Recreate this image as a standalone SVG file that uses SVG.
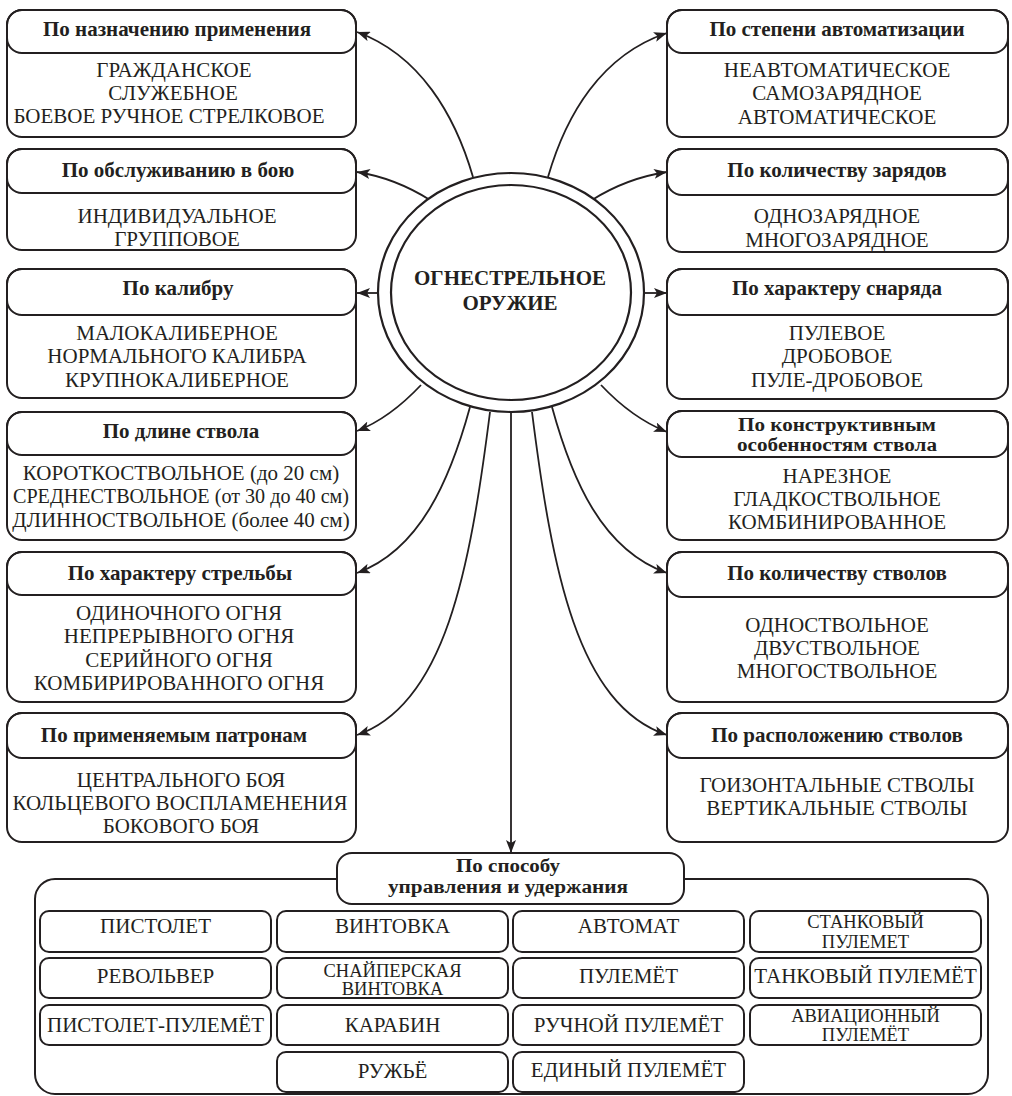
<svg xmlns="http://www.w3.org/2000/svg" width="1012" height="1096" viewBox="0 0 1012 1096">
<style>
.box{fill:#fff;stroke:#231f20;stroke-width:2}
.hdr{fill:none;stroke:#231f20;stroke-width:2}
.cell{fill:#fff;stroke:#231f20;stroke-width:2}
text{font-family:'Liberation Serif','DejaVu Serif',serif;fill:#231f20;text-anchor:middle}
.h{font-weight:bold;font-size:21px}
.h2{font-weight:bold;font-size:18px}
.b{font-size:21px}
.s{font-size:18.5px}
.c{font-weight:bold;font-size:21px}
.conn{fill:none;stroke:#231f20;stroke-width:1.8;marker-end:url(#arr)}
</style>
<defs>
<marker id="arr" markerUnits="userSpaceOnUse" markerWidth="14" markerHeight="10" refX="13" refY="5" orient="auto">
<path d="M0,0 L13,5 L0,10 L3,5 z" fill="#231f20"/>
</marker>
</defs>
<rect width="1012" height="1096" fill="#fff"/>

<g id="connectors">
<path class="conn" d="M473,177 C455,115 420,55 357,32"/>
<path class="conn" d="M430,200 Q395,178 357,172"/>
<path class="conn" d="M378,293 L357,293"/>
<path class="conn" d="M421,385 Q390,418 357,431"/>
<path class="conn" d="M470,407 C450,480 420,550 357,573"/>
<path class="conn" d="M490,412 C470,570 445,705 357,735"/>
<path class="conn" d="M511,412 L511,853"/>
<path class="conn" d="M548,177 C566,115 601,55 667,33"/>
<path class="conn" d="M592,200 Q627,178 667,172"/>
<path class="conn" d="M644,293 L667,293"/>
<path class="conn" d="M601,385 Q632,418 667,432"/>
<path class="conn" d="M552,407 C572,480 602,550 667,573"/>
<path class="conn" d="M532,412 C552,570 577,705 667,735"/>
</g>

<g id="center">
<ellipse cx="511" cy="292.5" rx="133" ry="119.5" fill="#fff" stroke="#231f20" stroke-width="2.2"/>
<ellipse cx="511" cy="292.5" rx="120" ry="107.5" fill="none" stroke="#231f20" stroke-width="2.2"/>
<text class="c" x="510" y="285">ОГНЕСТРЕЛЬНОЕ</text>
<text class="c" x="510" y="310">ОРУЖИЕ</text>
</g>

<g id="l1">
<rect class="box" x="7" y="10" width="349" height="127" rx="15"/>
<rect class="hdr" x="7" y="10" width="349" height="43" rx="15"/>
<text class="h" x="177" y="36">По назначению применения</text>
<text class="b" x="174" y="77">ГРАЖДАНСКОЕ</text>
<text class="b" x="173" y="100">СЛУЖЕБНОЕ</text>
<text class="b" x="169" y="123">БОЕВОЕ РУЧНОЕ СТРЕЛКОВОЕ</text>
</g>
<g id="l2">
<rect class="box" x="7" y="149" width="349" height="101" rx="15"/>
<rect class="hdr" x="7" y="149" width="349" height="44" rx="15"/>
<text class="h" x="178" y="177">По обслуживанию в бою</text>
<text class="b" x="177" y="223">ИНДИВИДУАЛЬНОЕ</text>
<text class="b" x="177" y="246">ГРУППОВОЕ</text>
</g>
<g id="l3">
<rect class="box" x="7" y="269" width="349" height="129" rx="15"/>
<rect class="hdr" x="7" y="269" width="349" height="46" rx="15"/>
<text class="h" x="178" y="295">По калибру</text>
<text class="b" x="177" y="340">МАЛОКАЛИБЕРНОЕ</text>
<text class="b" x="177" y="363">НОРМАЛЬНОГО КАЛИБРА</text>
<text class="b" x="177" y="387">КРУПНОКАЛИБЕРНОЕ</text>
</g>
<g id="l4">
<rect class="box" x="7" y="412" width="349" height="128" rx="15"/>
<rect class="hdr" x="7" y="412" width="349" height="43" rx="15"/>
<text class="h" x="181" y="438">По длине ствола</text>
<text class="b" x="181" y="480">КОРОТКОСТВОЛЬНОЕ (до 20 см)</text>
<text class="b" x="181" y="503" textLength="336" lengthAdjust="spacingAndGlyphs">СРЕДНЕСТВОЛЬНОЕ (от 30 до 40 см)</text>
<text class="b" x="181" y="527">ДЛИННОСТВОЛЬНОЕ (более 40 см)</text>
</g>
<g id="l5">
<rect class="box" x="7" y="552" width="349" height="150" rx="15"/>
<rect class="hdr" x="7" y="552" width="349" height="43" rx="15"/>
<text class="h" x="180" y="580">По характеру стрельбы</text>
<text class="b" x="179" y="620">ОДИНОЧНОГО ОГНЯ</text>
<text class="b" x="179" y="643">НЕПРЕРЫВНОГО ОГНЯ</text>
<text class="b" x="179" y="667">СЕРИЙНОГО ОГНЯ</text>
<text class="b" x="179" y="690">КОМБИРИРОВАННОГО ОГНЯ</text>
</g>
<g id="l6">
<rect class="box" x="7" y="713" width="349" height="129" rx="15"/>
<rect class="hdr" x="7" y="713" width="349" height="45" rx="15"/>
<text class="h" x="174" y="742">По применяемым патронам</text>
<text class="b" x="181" y="787">ЦЕНТРАЛЬНОГО БОЯ</text>
<text class="b" x="180" y="810">КОЛЬЦЕВОГО ВОСПЛАМЕНЕНИЯ</text>
<text class="b" x="181" y="833">БОКОВОГО БОЯ</text>
</g>

<g id="r1">
<rect class="box" x="667" y="10" width="341" height="127" rx="15"/>
<rect class="hdr" x="667" y="10" width="341" height="43" rx="15"/>
<text class="h" x="837" y="36">По степени автоматизации</text>
<text class="b" x="837" y="77">НЕАВТОМАТИЧЕСКОЕ</text>
<text class="b" x="837" y="100">САМОЗАРЯДНОЕ</text>
<text class="b" x="837" y="124">АВТОМАТИЧЕСКОЕ</text>
</g>
<g id="r2">
<rect class="box" x="667" y="149" width="341" height="103" rx="15"/>
<rect class="hdr" x="667" y="149" width="341" height="46" rx="15"/>
<text class="h" x="837" y="177">По количеству зарядов</text>
<text class="b" x="837" y="223">ОДНОЗАРЯДНОЕ</text>
<text class="b" x="837" y="247">МНОГОЗАРЯДНОЕ</text>
</g>
<g id="r3">
<rect class="box" x="667" y="269" width="341" height="130" rx="15"/>
<rect class="hdr" x="667" y="269" width="341" height="46" rx="15"/>
<text class="h" x="837" y="295">По характеру снаряда</text>
<text class="b" x="837" y="340">ПУЛЕВОЕ</text>
<text class="b" x="837" y="363">ДРОБОВОЕ</text>
<text class="b" x="837" y="387">ПУЛЕ-ДРОБОВОЕ</text>
</g>
<g id="r4">
<rect class="box" x="667" y="411" width="341" height="129" rx="15"/>
<rect class="hdr" x="667" y="411" width="341" height="46" rx="15"/>
<text class="h2" x="837" y="431" textLength="198" lengthAdjust="spacingAndGlyphs">По конструктивным</text>
<text class="h2" x="837" y="451" textLength="200" lengthAdjust="spacingAndGlyphs">особенностям ствола</text>
<text class="b" x="837" y="483">НАРЕЗНОЕ</text>
<text class="b" x="837" y="506">ГЛАДКОСТВОЛЬНОЕ</text>
<text class="b" x="837" y="529">КОМБИНИРОВАННОЕ</text>
</g>
<g id="r5">
<rect class="box" x="667" y="552" width="341" height="150" rx="15"/>
<rect class="hdr" x="667" y="552" width="341" height="45" rx="15"/>
<text class="h" x="837" y="580">По количеству стволов</text>
<text class="b" x="837" y="632">ОДНОСТВОЛЬНОЕ</text>
<text class="b" x="837" y="655">ДВУСТВОЛЬНОЕ</text>
<text class="b" x="837" y="678">МНОГОСТВОЛЬНОЕ</text>
</g>
<g id="r6">
<rect class="box" x="667" y="713" width="341" height="129" rx="15"/>
<rect class="hdr" x="667" y="713" width="341" height="45" rx="15"/>
<text class="h" x="837" y="742">По расположению стволов</text>
<text class="b" x="837" y="792">ГОИЗОНТАЛЬНЫЕ СТВОЛЫ</text>
<text class="b" x="837" y="815">ВЕРТИКАЛЬНЫЕ СТВОЛЫ</text>
</g>

<g id="bottom">
<rect class="box" x="35" y="879" width="953" height="215" rx="20"/>
<rect class="box" x="337" y="853" width="347" height="51" rx="15"/>
<text class="h2" x="508" y="872" textLength="104" lengthAdjust="spacingAndGlyphs">По способу</text>
<text class="h2" x="508" y="893" textLength="240" lengthAdjust="spacingAndGlyphs">управления и удержания</text>
</g>
<g id="c-pistolet"><rect class="cell" x="40" y="911" width="231" height="41" rx="9"/><text class="b" x="155.5" y="933">ПИСТОЛЕТ</text></g>
<g id="c-revolver"><rect class="cell" x="40" y="958" width="231" height="40" rx="9"/><text class="b" x="155.5" y="983">РЕВОЛЬВЕР</text></g>
<g id="c-pp"><rect class="cell" x="40" y="1005" width="231" height="40" rx="9"/><text class="b" x="155.5" y="1032">ПИСТОЛЕТ-ПУЛЕМЁТ</text></g>
<g id="c-vintovka"><rect class="cell" x="277" y="911" width="231" height="41" rx="9"/><text class="b" x="392.5" y="933">ВИНТОВКА</text></g>
<g id="c-snayper"><rect class="cell" x="277" y="958" width="231" height="40" rx="9"/><text class="s" x="392.5" y="977">СНАЙПЕРСКАЯ</text><text class="s" x="392.5" y="995">ВИНТОВКА</text></g>
<g id="c-karabin"><rect class="cell" x="277" y="1005" width="231" height="40" rx="9"/><text class="b" x="392.5" y="1032">КАРАБИН</text></g>
<g id="c-ruzhye"><rect class="cell" x="277" y="1052" width="231" height="40" rx="9"/><text class="b" x="392.5" y="1078">РУЖЬЁ</text></g>
<g id="c-avtomat"><rect class="cell" x="513" y="911" width="231" height="41" rx="9"/><text class="b" x="628.5" y="933">АВТОМАТ</text></g>
<g id="c-pulemet"><rect class="cell" x="513" y="958" width="231" height="40" rx="9"/><text class="b" x="628.5" y="983">ПУЛЕМЁТ</text></g>
<g id="c-ruchnoy"><rect class="cell" x="513" y="1005" width="231" height="40" rx="9"/><text class="b" x="628.5" y="1032">РУЧНОЙ ПУЛЕМЁТ</text></g>
<g id="c-ediny"><rect class="cell" x="513" y="1052" width="231" height="40" rx="9"/><text class="b" x="628.5" y="1077">ЕДИНЫЙ ПУЛЕМЁТ</text></g>
<g id="c-stankovy"><rect class="cell" x="750" y="911" width="231" height="41" rx="9"/><text class="s" x="865.5" y="928">СТАНКОВЫЙ</text><text class="s" x="865.5" y="948">ПУЛЕМЕТ</text></g>
<g id="c-tankovy"><rect class="cell" x="750" y="958" width="231" height="40" rx="9"/><text class="b" x="865.5" y="983">ТАНКОВЫЙ ПУЛЕМЁТ</text></g>
<g id="c-aviac"><rect class="cell" x="750" y="1005" width="231" height="40" rx="9"/><text class="s" x="865.5" y="1022">АВИАЦИОННЫЙ</text><text class="s" x="865.5" y="1041">ПУЛЕМЁТ</text></g>
</svg>
